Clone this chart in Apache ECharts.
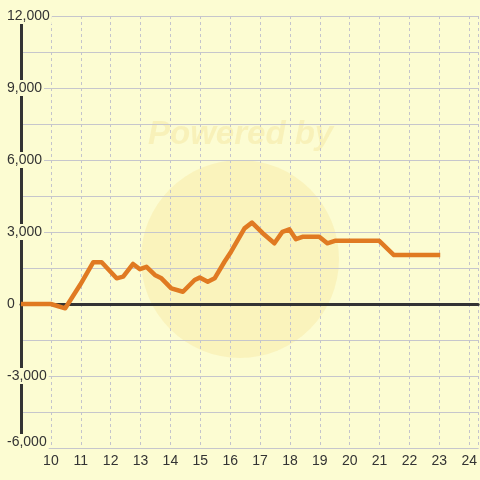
<!DOCTYPE html>
<html>
<head>
<meta charset="utf-8">
<script src="https://cdn.jsdelivr.net/npm/echarts@6/dist/echarts.min.js"></script>
<style>
html,body{margin:0;padding:0;background:#fcfcd2;}
#chart{width:480px;height:480px;}
</style>
</head>
<body>
<div id="chart"></div>
<script>
// Data
var xValues = [9, 10, 10.48, 10.98, 11.42, 11.7, 12.2, 12.42, 12.75, 12.98, 13.2, 13.48, 13.7, 14.03, 14.42, 14.81, 14.98, 15.25, 15.48, 15.81, 16.03, 16.48, 16.73, 17.09, 17.48, 17.75, 17.98, 18.2, 18.42, 18.98, 19.25, 19.53, 20.98, 21.48, 23.03];
var yValues = [0, 0, -180, 800, 1740, 1740, 1070, 1140, 1670, 1450, 1550, 1210, 1070, 650, 510, 1000, 1100, 930, 1070, 1760, 2180, 3150, 3390, 2950, 2530, 3010, 3110, 2700, 2800, 2800, 2530, 2640, 2640, 2040, 2040];
var xMin = 9, xMax = 24.3, xStep = 1;
var yMin = -6000, yMax = 12000, yStep = 1500, yLabelStep = 3000;
var watermarkText = 'Powered by';

var bg = '#fcfcd2';
var points = xValues.map(function (x, i) { return [x, yValues[i]]; });

var chart = echarts.init(document.getElementById('chart'), null, {renderer: 'canvas'});
chart.setOption({
  backgroundColor: bg,
  animation: false,
  grid: {left: 21, top: 16, right: 0, bottom: 32, containLabel: false},
  graphic: [
    {type: 'circle', z: -10, shape: {cx: 240, cy: 259, r: 99},
     style: {fill: 'rgba(245,225,150,0.35)'}},
    {type: 'text', z: -10, left: 148, top: 118,
     style: {text: watermarkText, font: 'italic bold 33px "Liberation Sans", Arial, sans-serif', fill: 'rgba(240,220,140,0.35)'}}
  ],
  xAxis: [
    {
      type: 'value', min: xMin, max: xMax, interval: xStep, position: 'bottom',
      axisLine: {onZero: false, show: true, lineStyle: {color: '#c6c6cc', width: 1}},
      axisTick: {show: false},
      axisLabel: {
        color: '#333', fontSize: 14, margin: 6, fontFamily: '"Liberation Sans", Arial, sans-serif',
        showMinLabel: false, showMaxLabel: false,
        formatter: function (v) { return (v === xMin || v !== Math.round(v)) ? '' : String(v); }
      },
      splitLine: {show: true, lineStyle: {color: '#c4c4cc', width: 1, type: [3, 3]}}
    },
    {
      type: 'value', min: xMin, max: xMax, interval: xStep, position: 'bottom',
      axisLine: {onZero: true, show: true, lineStyle: {color: '#333', width: 3}},
      axisTick: {show: false}, axisLabel: {show: false}, splitLine: {show: false}
    }
  ],
  yAxis: {
    type: 'value', min: yMin, max: yMax, interval: yStep,
    axisLine: {show: true, lineStyle: {color: '#333', width: 3}},
    axisTick: {show: false},
    axisLabel: {
      color: '#333', fontSize: 14, align: 'left', margin: 14,
      fontFamily: '"Liberation Sans", Arial, sans-serif',
      backgroundColor: bg, padding: [1, 2, 1, 0],
      formatter: function (v) {
        if (v % yLabelStep !== 0) return '';
        var s = Math.abs(v).toLocaleString('en-US');
        s = (v < 0 ? '-' : '') + s;
        if (v === yMin) return '{lo|' + s + '}';
        return s;
      },
      rich: {lo: {color: '#333', fontSize: 14, padding: [0, 0, 12, 0], fontFamily: '"Liberation Sans", Arial, sans-serif'}}
    },
    splitLine: {show: true, lineStyle: {color: '#c6c6cc', width: 1}}
  },
  series: [{
    type: 'line', xAxisIndex: 0, data: points, showSymbol: false, symbol: 'none',
    lineStyle: {color: '#e07a22', width: 4.5, join: 'round'},
    z: 5
  }]
});
</script>
</body>
</html>
